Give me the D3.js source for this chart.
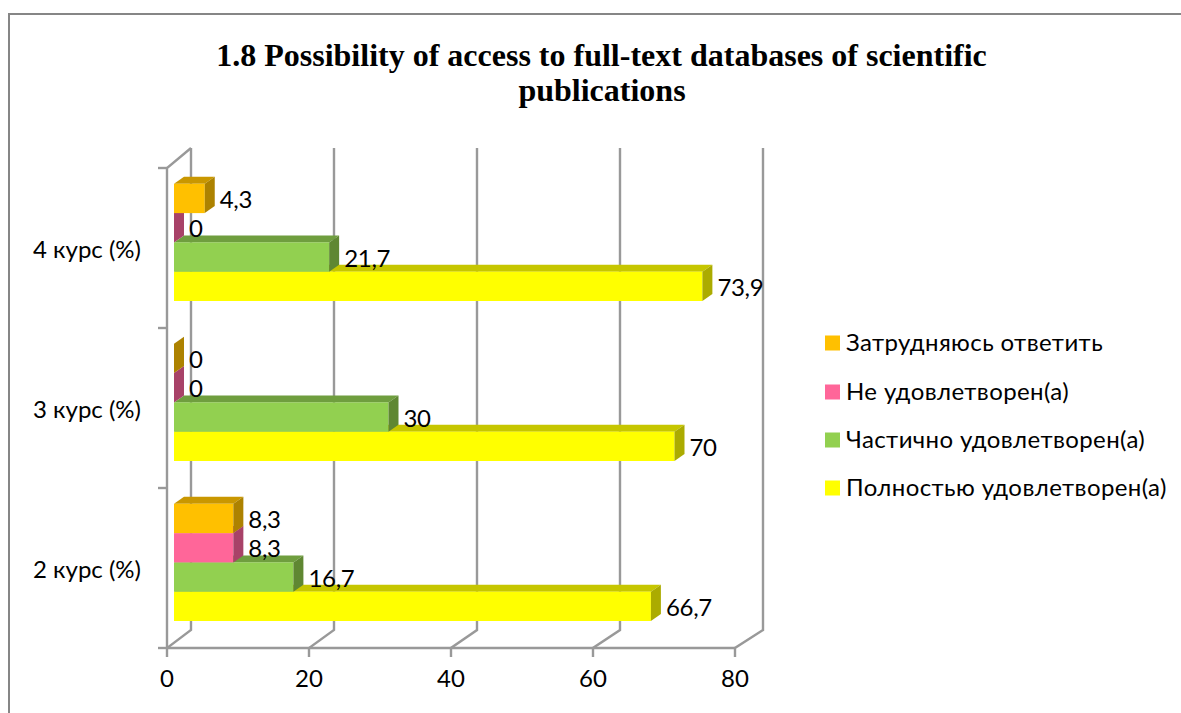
<!DOCTYPE html>
<html><head><meta charset="utf-8">
<script src="https://cdn.jsdelivr.net/npm/d3@7/dist/d3.min.js"></script>
<style>html,body{margin:0;padding:0;background:#fff}svg{display:block}</style></head>
<body><svg id="c" width="1181" height="713"></svg>
<script>
const categories = ["2 курс (%)","3 курс (%)","4 курс (%)"];
const seriesNames = ["Полностью удовлетворен(а)","Частично удовлетворен(а)","Не удовлетворен(а)","Затрудняюсь ответить"];
const full = [66.7,70,73.9];
const partial = [16.7,30,21.7];
const notSat = [8.3,0,0];
const hard = [8.3,0,4.3];
const seriesValues = [full,partial,notSat,hard];
const labelText = [["66,7","70","73,9"],["16,7","30","21,7"],["8,3","0","0"],["8,3","0","4,3"]];
const xTicks = [0,20,40,60,80];
const fronts = ["#FFFF00","#92D050","#FF6699","#FFC000"];
const tops = ["#C6C600","#6F9E3E","#C04F78","#C99700"];
const sides = ["#ABAB00","#5F8732","#A84268","#AD8200"];

const FONT = "Lato,'Open Sans',sans-serif";
const FS = 24;
const svg = d3.select("#c");
const dx = 10, dy = 7;
const xAxisScale = d3.scaleLinear().domain([0,80]).range([167,735]);
const xBack = d3.scaleLinear().domain([0,80]).range([191,763]);
const xBar = d3.scaleLinear().domain([0,80]).range([174,746]);
const yCat = d3.scaleBand().domain(categories).range([648,168]);
const yBar = d3.scaleBand().domain(d3.range(4)).range([yCat.bandwidth()-27, yCat.bandwidth()-27-117.2]);

// frame
svg.append("path").attr("d","M9,713V14H1181").attr("fill","none").attr("stroke","#868686").attr("stroke-width",2);

// title
const title = svg.append("g").attr("font-family","'Liberation Serif',serif").attr("font-weight","bold").attr("font-size",32).attr("text-anchor","middle").attr("fill","#000");
title.append("text").attr("x",601.5).attr("y",66).text("1.8 Possibility of access to full-text databases of scientific");
title.append("text").attr("x",602).attr("y",101).text("publications");

// walls
const grid = svg.append("g").attr("stroke","#999").attr("stroke-width",2.4).attr("fill","none");
xTicks.forEach(t=>{
  grid.append("path").attr("d",`M${xBack(t)},148V630L${xAxisScale(t)},648V657`);
});
grid.append("path").attr("d",`M${xAxisScale(0)},648V168L${xBack(0)},148`);
grid.append("path").attr("d",`M${xAxisScale(0)},648H${xAxisScale(80)}`);
[648,488,328,168].forEach(y=>{
  grid.append("path").attr("d",`M158,${y}H167`);
});

// bars
const barsG = svg.append("g");
const labelsG = svg.append("g").attr("font-family",FONT).attr("font-size",FS).attr("letter-spacing",-0.3).attr("fill","#000");
categories.forEach((c,ci)=>{
  seriesValues.forEach((vals,si)=>{
    const v = vals[ci];
    const y0 = yCat(c)+yBar(si), h = yBar.bandwidth();
    const x0 = xBar(0), x1 = xBar(v);
    if(v>0){
      barsG.append("path").attr("d",`M${x0},${y0}L${x0+dx},${y0-dy}H${x1+dx}L${x1},${y0}Z`).attr("fill",tops[si]);
      barsG.append("rect").attr("x",x0).attr("y",y0).attr("width",x1-x0).attr("height",h).attr("fill",fronts[si]);
    }
    barsG.append("path").attr("d",`M${x1},${y0}L${x1+dx},${y0-dy}V${y0+h-dy}L${x1},${y0+h}Z`).attr("fill",sides[si]);
    labelsG.append("text").attr("x",x1+15).attr("y",y0+h/2).attr("dominant-baseline","central").text(labelText[si][ci]);
  });
});

// axis labels
const axisG = svg.append("g").attr("font-family",FONT).attr("font-size",FS).attr("fill","#000");
xTicks.forEach(t=>axisG.append("text").attr("x",xAxisScale(t)).attr("y",677).attr("text-anchor","middle").attr("dominant-baseline","central").text(t));
categories.forEach(c=>axisG.append("text").attr("x",141).attr("y",yCat(c)+yCat.bandwidth()/2).attr("text-anchor","end").attr("dominant-baseline","central").text(c));

// legend (reverse series order)
const legendY = [343,392,440,488];
const legendOrder = [3,2,1,0];
const lg = svg.append("g").attr("font-family",FONT).attr("font-size",FS).attr("letter-spacing",0.4).attr("fill","#000");
legendOrder.forEach((si,i)=>{
  lg.append("rect").attr("x",825).attr("y",legendY[i]-7.5).attr("width",15).attr("height",15).attr("fill",fronts[si]);
  lg.append("text").attr("x",846).attr("y",legendY[i]-1.5).attr("dominant-baseline","central").text(seriesNames[si]);
});
</script></body></html>
